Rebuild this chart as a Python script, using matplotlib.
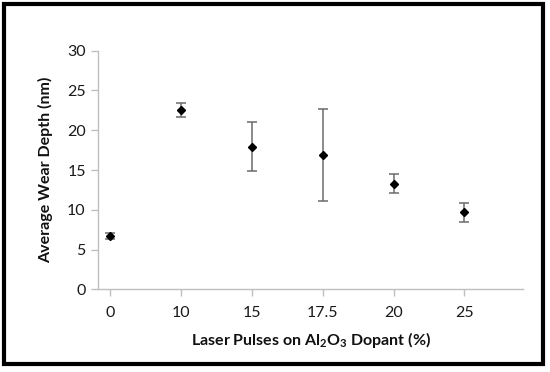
import matplotlib
matplotlib.use("Agg")
import matplotlib.pyplot as plt
from matplotlib.patches import Rectangle

plt.rcParams['font.family'] = ['Lato', 'DejaVu Sans']
plt.rcParams['mathtext.fontset'] = 'custom'
plt.rcParams['mathtext.rm'] = 'Lato:bold'
plt.rcParams['mathtext.it'] = 'Lato:bold'
plt.rcParams['mathtext.bf'] = 'Lato:bold'

categories = ['0', '10', '15', '17.5', '20', '25']
wear_depth = [6.7, 22.55, 17.95, 16.85, 13.3, 9.7]
wear_err = [0.4, 0.85, 3.1, 5.8, 1.25, 1.2]
y_ticks = [0, 5, 10, 15, 20, 25, 30]

fig = plt.figure(figsize=(5.5, 3.72), dpi=100)
ax = fig.add_axes([0.1787, 0.2223, 0.9515 - 0.1787, 0.8637 - 0.2223])

xpos = list(range(len(categories)))
ax.errorbar(xpos, wear_depth, yerr=wear_err, fmt='D', color='black',
            markersize=4.4, ecolor='#6b6b6b', elinewidth=1.1, capsize=3.5,
            capthick=1.1, zorder=3)

ax.set_xlim(-0.165, 5.83)
ax.set_ylim(0, 30)
ax.set_yticks(y_ticks)
ax.set_xticks(xpos)
ax.set_xticklabels(categories)

for s in ['top', 'right']:
    ax.spines[s].set_visible(False)
for s in ['left', 'bottom']:
    ax.spines[s].set_color('#bfbfbf')
    ax.spines[s].set_linewidth(1.0)
ax.tick_params(axis='both', colors='#bfbfbf', length=5, width=1.0,
               labelcolor='#1a1a1a', labelsize=11.5)
ax.tick_params(axis='x', pad=7)
ax.tick_params(axis='y', pad=4)

ax.set_ylabel('Average Wear Depth (nm)', fontsize=11.5, fontweight='bold',
              color='#111111', labelpad=10)
ax.set_xlabel(r'Laser Pulses on Al$_2$O$_3$ Dopant (%)', fontsize=11.5,
              fontweight='bold', color='#111111', labelpad=7)

# outer black frame
fig.patches.append(Rectangle((4 / 550, 1 - 364 / 372), (543 - 4) / 550, (364 - 4) / 372,
                             transform=fig.transFigure, fill=False,
                             edgecolor='black', linewidth=3.0))

fig.savefig('out.png', dpi=100, facecolor='white')
